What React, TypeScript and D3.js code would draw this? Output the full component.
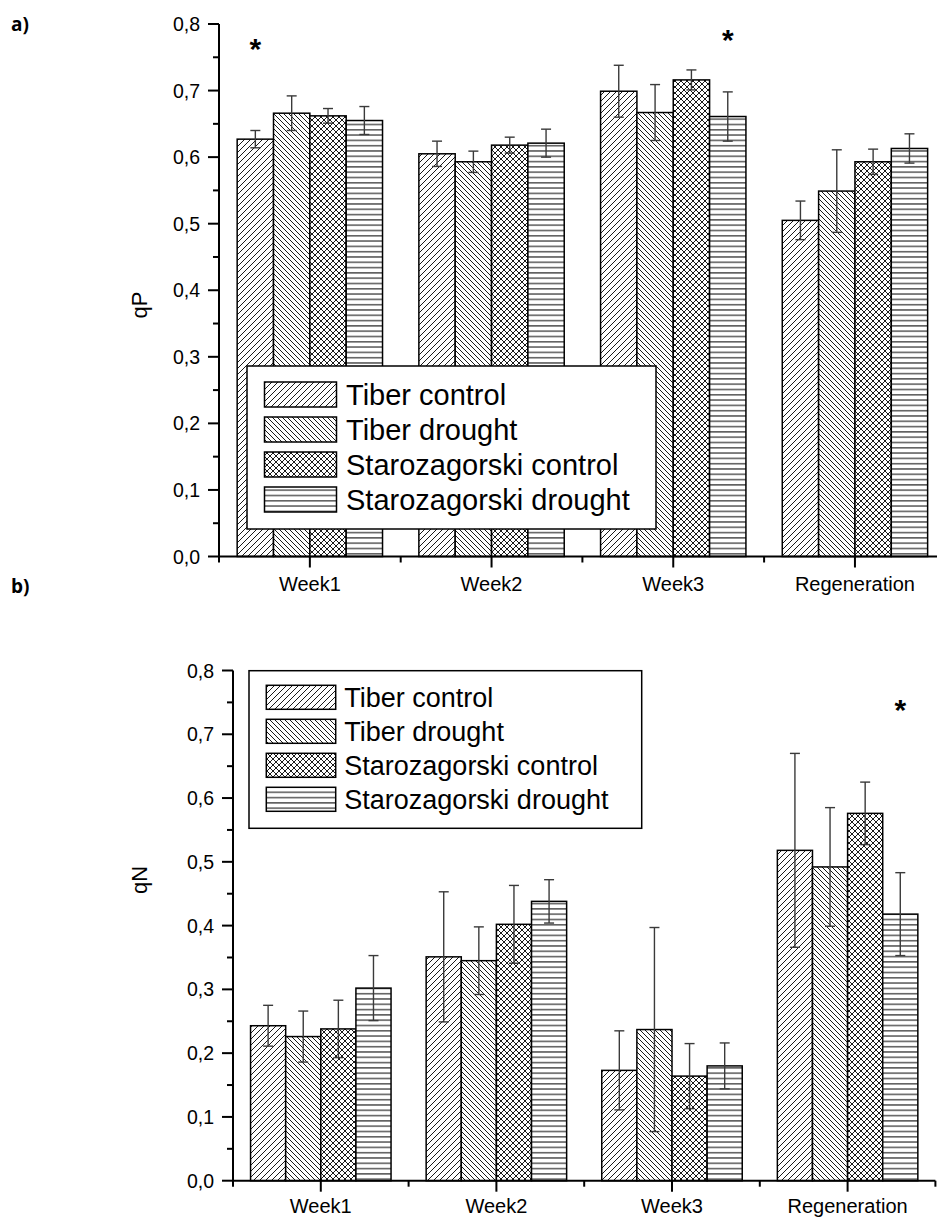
import React from "react";
import * as d3 from "d3";

const categories = ["Week1", "Week2", "Week3", "Regeneration"];
const seriesNames = ["Tiber control", "Tiber drought", "Starozagorski control", "Starozagorski drought"];
const yTicks = [0, 0.1, 0.2, 0.3, 0.4, 0.5, 0.6, 0.7, 0.8];

// qP (panel a)
const qPTiberControl = [0.627, 0.605, 0.699, 0.505];
const qPTiberControlErr = [0.013, 0.019, 0.039, 0.029];
const qPTiberDrought = [0.666, 0.593, 0.667, 0.549];
const qPTiberDroughtErr = [0.026, 0.016, 0.042, 0.062];
const qPStaroControl = [0.662, 0.618, 0.716, 0.593];
const qPStaroControlErr = [0.011, 0.012, 0.015, 0.019];
const qPStaroDrought = [0.655, 0.621, 0.661, 0.613];
const qPStaroDroughtErr = [0.021, 0.021, 0.037, 0.022];

// qN (panel b)
const qNTiberControl = [0.243, 0.351, 0.173, 0.518];
const qNTiberControlErr = [0.032, 0.102, 0.062, 0.152];
const qNTiberDrought = [0.226, 0.345, 0.237, 0.492];
const qNTiberDroughtErr = [0.040, 0.053, 0.160, 0.093];
const qNStaroControl = [0.238, 0.402, 0.164, 0.576];
const qNStaroControlErr = [0.045, 0.061, 0.051, 0.049];
const qNStaroDrought = [0.302, 0.438, 0.180, 0.418];
const qNStaroDroughtErr = [0.051, 0.034, 0.036, 0.065];

// significance marks: [category index, series index]
const qPStars = [[0, 0], [2, 3]];
const qNStars = [[3, 3]];

const FONT = "'Liberation Sans', Arial, sans-serif";
const fmt = (v: number) => d3.format(".1f")(v).replace(".", ",");

function Patterns() {
  return (
    <defs>
      <pattern id="p0" patternUnits="userSpaceOnUse" width="6" height="6">
        <rect width="6" height="6" fill="white" />
        <path d="M0,6 L6,0 M-1,1 L1,-1 M5,7 L7,5" stroke="black" strokeWidth="0.9" />
      </pattern>
      <pattern id="p1" patternUnits="userSpaceOnUse" width="5" height="5">
        <rect width="5" height="5" fill="white" />
        <path d="M0,0 L5,5 M-1,4 L1,6 M4,-1 L6,1" stroke="black" strokeWidth="0.9" />
      </pattern>
      <pattern id="p2" patternUnits="userSpaceOnUse" width="6" height="6">
        <rect width="6" height="6" fill="white" />
        <path d="M0,6 L6,0 M-1,1 L1,-1 M5,7 L7,5 M0,0 L6,6 M-1,5 L1,7 M5,-1 L7,1" stroke="black" strokeWidth="0.9" />
      </pattern>
      <pattern id="p3" patternUnits="userSpaceOnUse" width="6" height="5.3">
        <rect width="6" height="5.3" fill="white" />
        <path d="M0,2.6 L6,2.6" stroke="black" strokeWidth="1" />
      </pattern>
    </defs>
  );
}

type ChartProps = {
  values: number[][];
  errs: number[][];
  stars: number[][];
  starY: number[];
  x0: number; x1: number; yTop: number; yBottom: number;
  legend: { x: number; y: number; w: number; h: number; font: number; row: number; sw: number; sh: number; pad: number; textX: number; firstBase: number };
  title: string; titleX: number; titleY: number;
  labelBase: number;
};

function Chart(p: ChartProps) {
  const x = d3.scaleBand<string>().domain(categories).range([p.x0, p.x1]).paddingInner(0.2).paddingOuter(0.1);
  const xs = d3.scaleBand<string>().domain(seriesNames).range([0, x.bandwidth()]);
  const y = d3.scaleLinear().domain([0, 0.8]).range([p.yBottom, p.yTop]);
  const step = x.step();
  const minorY = d3.range(0.05, 0.8, 0.1);
  const bounds = d3.range(0, categories.length + 1).map((i) => p.x0 + i * step);
  const L = p.legend;
  return (
    <g>
      {/* bars */}
      {categories.map((c, ci) => (
        <g key={c}>
          {seriesNames.map((s, si) => {
            const v = p.values[si][ci];
            const bx = (x(c) as number) + (xs(s) as number);
            return (
              <rect key={s} x={bx} y={y(v)} width={xs.bandwidth()} height={y(0) - y(v)}
                fill={`url(#p${si})`} stroke="black" strokeWidth={1.5} />
            );
          })}
        </g>
      ))}
      {/* error bars */}
      {categories.map((c, ci) => (
        <g key={"e" + c}>
          {seriesNames.map((s, si) => {
            const v = p.values[si][ci];
            const e = p.errs[si][ci];
            const cx = (x(c) as number) + (xs(s) as number) + xs.bandwidth() / 2;
            return (
              <g key={s} stroke="#3a3a3a" strokeWidth={1.4}>
                <line x1={cx} x2={cx} y1={y(v + e)} y2={y(v - e)} />
                <line x1={cx - 5} x2={cx + 5} y1={y(v + e)} y2={y(v + e)} />
                <line x1={cx - 5} x2={cx + 5} y1={y(v - e)} y2={y(v - e)} />
              </g>
            );
          })}
        </g>
      ))}
      {/* significance stars */}
      {p.stars.map(([ci, si], i) => {
        const cx = (x(categories[ci]) as number) + (xs(seriesNames[si]) as number) + xs.bandwidth() / 2;
        return (
          <text key={"s" + i} x={cx} y={p.starY[i] + 17} textAnchor="middle" fontFamily={FONT} fontWeight="bold" fontSize={30}>*</text>
        );
      })}
      {/* axes */}
      <line x1={p.x0} x2={p.x0} y1={p.yTop} y2={p.yBottom + 1} stroke="black" strokeWidth={2} />
      <line x1={p.x0 - 1} x2={p.x1} y1={p.yBottom} y2={p.yBottom} stroke="black" strokeWidth={2} />
      {yTicks.map((t) => (
        <g key={t}>
          <line x1={p.x0 - 11} x2={p.x0} y1={y(t)} y2={y(t)} stroke="black" strokeWidth={2} />
          <text x={p.x0 - 19} y={y(t)} dy="0.36em" textAnchor="end" fontFamily={FONT} fontSize={19.5}>{fmt(t)}</text>
        </g>
      ))}
      {minorY.map((t) => (
        <line key={t} x1={p.x0 - 6} x2={p.x0} y1={y(t)} y2={y(t)} stroke="black" strokeWidth={2} />
      ))}
      {categories.map((c) => {
        const cx = (x(c) as number) + x.bandwidth() / 2;
        return (
          <g key={"t" + c}>
            <line x1={cx} x2={cx} y1={p.yBottom} y2={p.yBottom + 11} stroke="black" strokeWidth={2} />
            <text x={cx} y={p.labelBase} textAnchor="middle" fontFamily={FONT} fontSize={20}>{c}</text>
          </g>
        );
      })}
      {bounds.map((b, i) => (
        <line key={"b" + i} x1={b} x2={b} y1={p.yBottom} y2={p.yBottom + 6} stroke="black" strokeWidth={2} />
      ))}
      <text transform={`translate(${p.titleX},${p.titleY}) rotate(-90)`} textAnchor="middle" fontFamily={FONT} fontSize={22}>{p.title}</text>
      {/* legend */}
      <rect x={L.x} y={L.y} width={L.w} height={L.h} fill="white" stroke="black" strokeWidth={1.5} />
      {seriesNames.map((s, si) => {
        const base = L.firstBase + si * L.row;
        return (
          <g key={"l" + s}>
            <rect x={L.x + L.pad} y={base - L.sh + 2} width={L.sw} height={L.sh} fill={`url(#p${si})`} stroke="black" strokeWidth={1.5} />
            <text x={L.textX} y={base} fontFamily={FONT} fontSize={L.font}>{s}</text>
          </g>
        );
      })}
    </g>
  );
}

export default function App() {
  const qPVals = [qPTiberControl, qPTiberDrought, qPStaroControl, qPStaroDrought];
  const qPErrs = [qPTiberControlErr, qPTiberDroughtErr, qPStaroControlErr, qPStaroDroughtErr];
  const qNVals = [qNTiberControl, qNTiberDrought, qNStaroControl, qNStaroDrought];
  const qNErrs = [qNTiberControlErr, qNTiberDroughtErr, qNStaroControlErr, qNStaroDroughtErr];
  const top = { x0: 219, x1: 219 + 4 * 181.7, yTop: 24, yBottom: 556.5 };
  const bot = { x0: 233, x1: 233 + 4 * 175.6, yTop: 670.5, yBottom: 1180.7 };
  return (
    <svg width={937} height={1217} style={{ position: "absolute", left: 0, top: 0, background: "white" }}>
      <Patterns />
      <text x={11} y={31} fontFamily="'Open Sans', sans-serif" fontWeight="bold" fontSize={19}>a)</text>
      <text x={11} y={593} fontFamily="'Open Sans', sans-serif" fontWeight="bold" fontSize={19}>b)</text>
      <Chart values={qPVals} errs={qPErrs} stars={qPStars} starY={[42, 33]} {...top}
        legend={{ x: 247, y: 366, w: 409, h: 163, font: 29, row: 35, sw: 72, sh: 25, pad: 17.5, textX: 346, firstBase: 405 }}
        title="qP" titleX={147} titleY={305} labelBase={591} />
      <Chart values={qNVals} errs={qNErrs} stars={qNStars} starY={[703]} {...bot}
        legend={{ x: 249, y: 670.7, w: 392.7, h: 157.6, font: 27, row: 34, sw: 69.4, sh: 24, pad: 17.3, textX: 344.3, firstBase: 707.3 }}
        title="qN" titleX={147} titleY={880} labelBase={1213} />
    </svg>
  );
}
